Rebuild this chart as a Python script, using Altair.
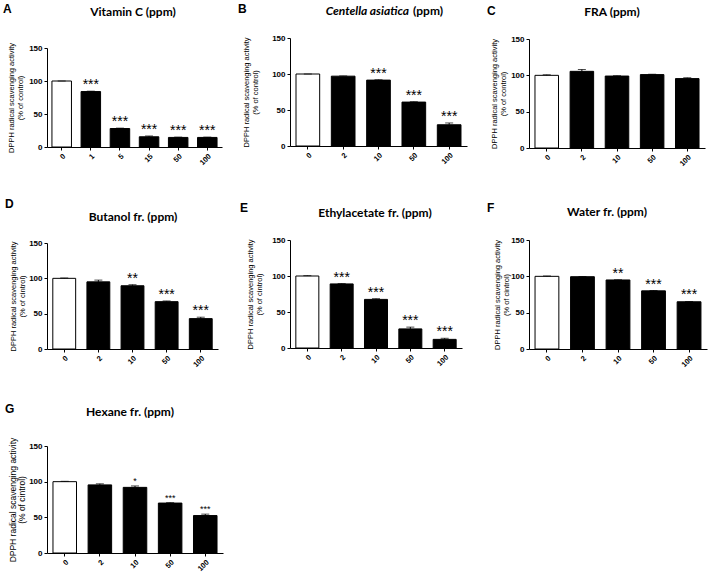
import altair as alt
import pandas as pd

# ---------------- data ----------------
letters = ["A", "B", "C", "D", "E", "F", "G"]
panel_titles = ["Vitamin C (ppm)", "Centella asiatica", "FRA (ppm)", "Butanol fr. (ppm)",
                "Ethylacetate fr. (ppm)", "Water fr. (ppm)", "Hexane fr. (ppm)"]
title_suffix_b = "(ppm)"
ytitle_line1 = "DPPH radical scavenging activity"
ytitle_control = "(% of control)"
ytitle_cintrol = "(% of cintrol)"

doses_vitc = ["0", "1", "5", "15", "50", "100"]
doses = ["0", "2", "10", "50", "100"]

vitc_val = [100, 84, 28, 15.5, 14.5, 14.5]
vitc_err = [0, 0.6, 0.6, 1.2, 0.5, 0.5]
vitc_sig = ["", "***", "***", "***", "***", "***"]

cent_val = [100, 97, 91.5, 61, 29.5]
cent_err = [0, 0.3, 0.5, 0.5, 2.5]
cent_sig = ["", "", "***", "***", "***"]

fra_val = [100, 105.5, 99, 101, 95.5]
fra_err = [0.8, 2.5, 0.5, 0.5, 1.2]
fra_sig = ["", "", "", "", ""]

buta_val = [100, 95, 89.5, 67, 43]
buta_err = [0.5, 2.5, 1.5, 1, 2]
buta_sig = ["", "", "**", "***", "***"]

ethy_val = [100, 89, 67.5, 26.5, 12]
ethy_err = [0.5, 0.5, 1, 2.5, 1.5]
ethy_sig = ["", "***", "***", "***", "***"]

water_val = [100, 99.5, 95, 80, 65]
water_err = [0.5, 0.3, 0.3, 0.5, 0.4]
water_sig = ["", "", "**", "***", "***"]

hex_val = [100, 95.5, 92, 70, 52.5]
hex_err = [0.5, 1.5, 2, 0.6, 2]
hex_sig = ["", "", "*", "***", "***"]

y_ticks = [0, 50, 100, 150]

# ---------------- layout (not data) ----------------
CELL_W = 236
CELL_H = 197
LAST_H = 180
COL_L = [47, 54, 57]      # left extent of each column's cells
ROW_T = [38, 43, 52]      # top extent of each row's cells
ROW_H = [CELL_H, CELL_H, LAST_H]

LABEL_FONT = "Liberation Sans"
TITLE_FONT = "Lato"


def panel(idx, row, col, cats, vals, errs, sig, yline2, W, H, ytop,
          letter_xy, title_xy, tpad, star_size, ytitle_size=7.5):
    L = COL_L[col]
    T = ROW_T[row]
    df = pd.DataFrame({
        "dose": cats,
        "value": vals,
        "top": [v + e for v, e in zip(vals, errs)],
        "sig": sig,
    })
    xaxis = alt.Axis(labelAngle=-45, tickSize=3, labelPadding=2, labelFontSize=7.5)
    xscale = alt.Scale(paddingInner=0.33, paddingOuter=0.17)
    yscale = alt.Scale(domain=[0, 150], nice=False, range=[H, ytop])
    yaxis = alt.Axis(values=y_ticks, tickCount=4, tickSize=3, labelPadding=2,
                     labelOverlap=False, format="d",
                     title=[ytitle_line1, yline2], titlePadding=tpad,
                     titleFontSize=ytitle_size)

    def X():
        return alt.X("dose:N", sort=cats, title=None, scale=xscale, axis=xaxis)

    def Y(field):
        return alt.Y(field, scale=yscale, axis=yaxis)

    base = alt.Chart(df)

    frame = alt.Chart(pd.DataFrame({"k": [letters[idx]]})).mark_rect(
        opacity=0, fill="white").encode(
        x=alt.value(-L), x2=alt.value(CELL_W - L),
        y=alt.value(-T), y2=alt.value(ROW_H[row] - T))

    bars = base.mark_bar(stroke="black", strokeWidth=1).encode(
        x=X(), y=Y("value:Q"),
        fill=alt.condition("datum.dose == '0'", alt.value("white"), alt.value("black")),
    )
    err_rule = base.mark_rule(color="black", strokeWidth=1).encode(
        x=X(), y=Y("value:Q"), y2="top:Q")
    err_cap = base.mark_tick(color="black", thickness=1, size=8).encode(
        x=X(), y=Y("top:Q"))
    stars = base.mark_text(font=LABEL_FONT, fontSize=star_size, baseline="alphabetic",
                           dy=-2, color="black").encode(
        x=X(), y=Y("top:Q"), text="sig:N")

    letter = alt.Chart(pd.DataFrame({"t": [letters[idx]]})).mark_text(
        font=LABEL_FONT, fontSize=12, fontWeight="bold", align="left",
        baseline="alphabetic", color="black").encode(
        x=alt.value(letter_xy[0]), y=alt.value(letter_xy[1]), text="t:N")

    layers = [frame, bars, err_rule, err_cap, stars, letter]
    if idx == 1:
        t1 = alt.Chart(pd.DataFrame({"t": [panel_titles[idx]]})).mark_text(
            font=TITLE_FONT, fontSize=12, fontWeight="bold", fontStyle="italic",
            align="right", baseline="middle", color="black").encode(
            x=alt.value(title_xy[0]), y=alt.value(title_xy[1]), text="t:N")
        t2 = alt.Chart(pd.DataFrame({"t": [title_suffix_b]})).mark_text(
            font=TITLE_FONT, fontSize=12, fontWeight="bold",
            align="left", baseline="middle", color="black").encode(
            x=alt.value(title_xy[0] + 4), y=alt.value(title_xy[1]), text="t:N")
        layers += [t1, t2]
    else:
        t1 = alt.Chart(pd.DataFrame({"t": [panel_titles[idx]]})).mark_text(
            font=TITLE_FONT, fontSize=12, fontWeight="bold",
            align="center", baseline="middle", color="black").encode(
            x=alt.value(title_xy[0]), y=alt.value(title_xy[1]), text="t:N")
        layers += [t1]
    return alt.layer(*layers).properties(width=W, height=H)


pA = panel(0, 0, 0, doses_vitc, vitc_val, vitc_err, vitc_sig, ytitle_control,
           175, 109, 10, (-44, -25), (86, -26), 4, 14)
pB = panel(1, 0, 1, doses, cent_val, cent_err, cent_sig, ytitle_control,
           177, 108, 0, (-52, -25), (119, -27), 12, 14)
pC = panel(2, 0, 2, doses, fra_val, fra_err, fra_sig, ytitle_control,
           176, 110, 1, (-42, -23), (83, -26), 3, 14)
pD = panel(3, 1, 0, doses, buta_val, buta_err, buta_sig, ytitle_cintrol,
           171, 109, 3, (-42, -32), (86, -23), 2, 14)
pE = panel(4, 1, 1, doses, ethy_val, ethy_err, ethy_sig, ytitle_cintrol,
           172, 108, 0, (-50, -28), (85, -27), 8, 14)
pF = panel(5, 1, 2, doses, water_val, water_err, water_sig, ytitle_cintrol,
           178, 109, 0, (-42, -28), (78, -28), 0, 14)
pG = panel(6, 2, 0, doses, hex_val, hex_err, hex_sig, ytitle_cintrol,
           176, 107, 0, (-42, -33), (83, -34), 2, 9, 8.5)

chart = alt.concat(pA, pB, pC, pD, pE, pF, pG, columns=3, spacing=0, align="each").properties(
    padding=0, background="white"
).configure_view(strokeWidth=0).configure_axis(
    grid=False,
    labelFont=LABEL_FONT, labelFontSize=8, labelFontWeight="bold", labelColor="black",
    titleFont=LABEL_FONT, titleFontWeight="normal", titleColor="black", titleLineHeight=9,
    domainColor="black", domainWidth=1, tickColor="black", tickWidth=1,
).configure_axisY(labelOverlap=False)

chart.save("out.html", embed_options={"renderer": "svg", "actions": False})
